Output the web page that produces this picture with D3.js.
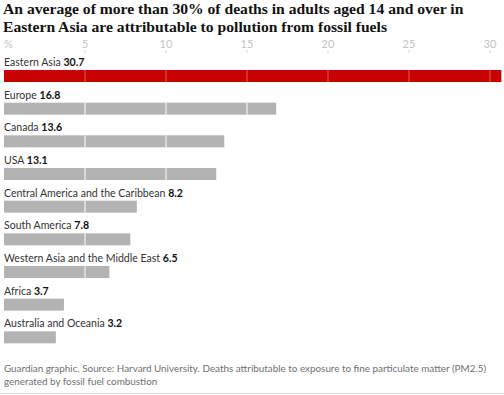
<!DOCTYPE html>
<html>
<head>
<meta charset="utf-8">
<script src="https://cdn.jsdelivr.net/npm/d3@7"></script>
<style>
  body { margin: 0; background: #fff; }
  svg { display: block; }
</style>
</head>
<body>
<script>
// Datos del gráfico
var regions = ['Eastern Asia', 'Europe', 'Canada', 'USA',
               'Central America and the Caribbean', 'South America',
               'Western Asia and the Middle East', 'Africa', 'Australia and Oceania'];
var values  = [30.7, 16.8, 13.6, 13.1, 8.2, 7.8, 6.5, 3.7, 3.2];
var ticks   = [0, 5, 10, 15, 20, 25, 30];

var WIDTH  = 504;
var HEIGHT = 395;

var svg = d3.select('body').append('svg')
            .attr('width', WIDTH)
            .attr('height', HEIGHT);

// Ajusta el tamaño de letra para que una línea mida el ancho deseado.
function fitText(sel, node, base, target) {
  var w = node.getComputedTextLength();
  sel.attr('font-size', base * target / w);
}

// Título
var title = svg.append('text')
               .attr('font-family', 'Liberation Serif')
               .attr('font-weight', 'bold')
               .attr('font-size', 18)
               .attr('fill', '#121212');
var t1 = title.append('tspan').attr('x', 3).attr('y', 14)
     .text('An average of more than 30% of deaths in adults aged 14 and over in');
title.append('tspan').attr('x', 3).attr('y', 32)
     .text('Eastern Asia are attributable to pollution from fossil fuels');
fitText(title, t1.node(), 18, 461);

var x = d3.scaleLinear().domain([0, 30]).range([4, 490]);
var y = d3.scaleBand().domain(regions).range([55, 349]);

// Eje superior
svg.selectAll('.tick-label')
   .data(ticks)
   .enter().append('text')
   .attr('x', function(d) { return x(d); })
   .attr('y', 48)
   .attr('text-anchor', function(d) { return d === 0 ? 'start' : 'middle'; })
   .attr('font-family', 'Lato')
   .attr('font-size', 11)
   .attr('fill', '#c4c4c4')
   .text(function(d) { return d === 0 ? '%' : d; });

svg.selectAll('.tick-mark')
   .data(ticks.slice(1))
   .enter().append('line')
   .attr('x1', function(d) { return x(d); })
   .attr('x2', function(d) { return x(d); })
   .attr('y1', 50).attr('y2', 53)
   .attr('stroke', '#d8d8d8');

// Barras
var barH = 12;
svg.selectAll('rect.bar')
   .data(values)
   .enter().append('rect')
   .attr('class', 'bar')
   .attr('x', x(0))
   .attr('y', function(d, i) { return y(regions[i]) + 15; })
   .attr('width', function(d) { return x(d) - x(0); })
   .attr('height', barH)
   .attr('fill', function(d, i) { return i === 0 ? '#c70000' : '#b3b3b3'; });

// Líneas de la cuadrícula sobre las barras
values.forEach(function(v, i) {
  svg.selectAll(null)
     .data(ticks.filter(function(t) { return t > 0 && t < v; }))
     .enter().append('line')
     .attr('x1', function(d) { return x(d); })
     .attr('x2', function(d) { return x(d); })
     .attr('y1', y(regions[i]) + 15)
     .attr('y2', y(regions[i]) + 15 + barH)
     .attr('stroke', i === 0 ? '#e25a5a' : '#ffffff')
     .attr('stroke-width', 1);
});

// Etiquetas
var labelG = svg.append('g')
   .attr('font-family', 'Lato')
   .attr('font-size', 11.5);
var labels = labelG.selectAll('text.label')
   .data(values)
   .enter().append('text')
   .attr('class', 'label')
   .attr('x', 4)
   .attr('y', function(d, i) { return y(regions[i]) + 11; })
   .attr('fill', '#333');
labels.append('tspan').text(function(d, i) { return regions[i] + ' '; });
labels.append('tspan').attr('font-weight', 'bold').attr('fill', '#121212')
      .text(function(d) { return d; });
fitText(labelG, labels.nodes()[4], 11.5, 179);

// Pie
var foot = svg.append('text')
              .attr('font-family', 'Lato')
              .attr('font-size', 10)
              .attr('fill', '#707070');
var f1 = foot.append('tspan').attr('x', 4).attr('y', 372)
    .text('Guardian graphic. Source: Harvard University. Deaths attributable to exposure to fine particulate matter (PM2.5)');
foot.append('tspan').attr('x', 4).attr('y', 385)
    .text('generated by fossil fuel combustion');
fitText(foot, f1.node(), 10, 483);

svg.append('line')
   .attr('x1', 0).attr('x2', WIDTH)
   .attr('y1', 393.5).attr('y2', 393.5)
   .attr('stroke', '#dcdcdc');
</script>
</body>
</html>
